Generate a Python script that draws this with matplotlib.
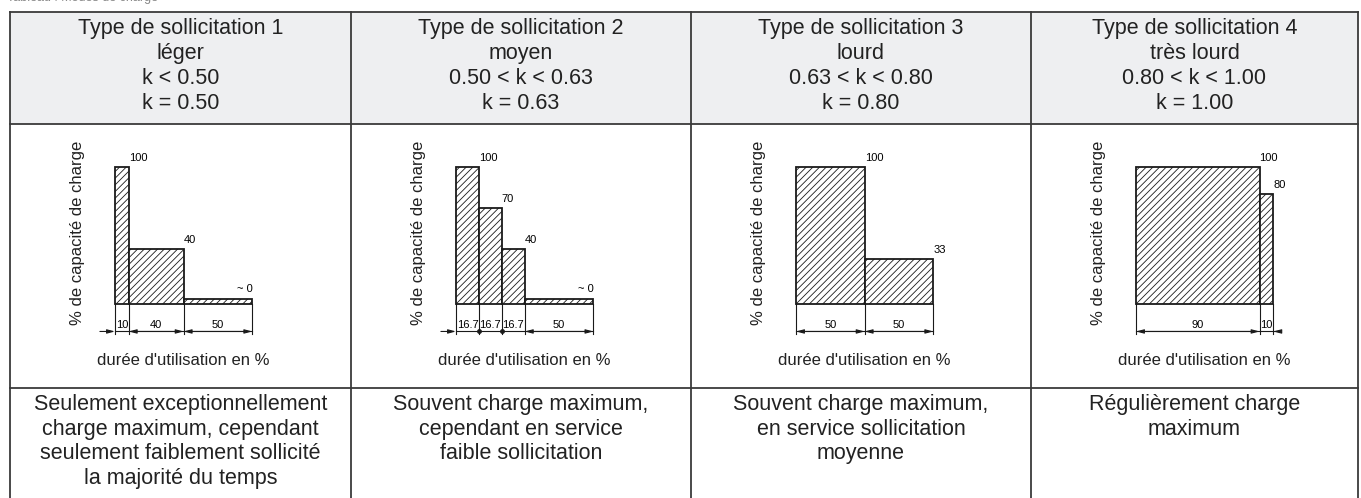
import numpy as np
import matplotlib.pyplot as plt
from matplotlib.patches import Rectangle, FancyArrowPatch

plt.rcParams['font.family'] = ['Liberation Sans', 'DejaVu Sans']
plt.rcParams['hatch.linewidth'] = 0.6

# table content
header_titles = ["Type de sollicitation 1", "Type de sollicitation 2",
                 "Type de sollicitation 3", "Type de sollicitation 4"]
header_names = ["léger", "moyen", "lourd", "très lourd"]
header_ranges = ["k < 0.50", "0.50 < k < 0.63", "0.63 < k < 0.80", "0.80 < k < 1.00"]
header_values = ["k = 0.50", "k = 0.63", "k = 0.80", "k = 1.00"]
descriptions = [
    "Seulement exceptionnellement\ncharge maximum, cependant\nseulement faiblement sollicité\nla majorité du temps",
    "Souvent charge maximum,\ncependant en service\nfaible sollicitation",
    "Souvent charge maximum,\nen service sollicitation\nmoyenne",
    "Régulièrement charge\nmaximum",
]

# load spectra: % load capacity per block, and duration of each block in %
load_levels = [[100, 40, 4], [100, 70, 40, 4], [100, 33], [100, 80]]
load_labels = [["100", "40", "~ 0"], ["100", "70", "40", "~ 0"], ["100", "33"], ["100", "80"]]
durations = [[10, 40, 50], [16.7, 16.7, 16.7, 50], [50, 50], [90, 10]]
duration_labels = [["10", "40", "50"], ["16.7", "16.7", "16.7", "50"], ["50", "50"], ["90", "10"]]

ylabel = "% de capacité de charge"
xlabel = "durée d'utilisation en %"

W, H = 1361, 498
col_left = [10, 351, 691, 1031]
col_right = [351, 691, 1031, 1358]
top, head_bot, mid_bot = 12, 124, 388
line_col = "#3a3a3a"
text_col = "#222222"

fig = plt.figure(figsize=(W / 100, H / 100), dpi=100)
bg = fig.add_axes([0, 0, 1, 1])
bg.set_xlim(0, W)
bg.set_ylim(H, 0)
bg.axis("off")

# caption above the table, mostly cut off by the top edge
fig.text(7 / W, 1 - 1 / H, "Tableau : Modes de charge", fontsize=9, color="#888888",
         va="baseline", ha="left")

# header background + grid
bg.add_patch(Rectangle((col_left[0], top), col_right[-1] - col_left[0], head_bot - top,
                       facecolor="#eeeff1", edgecolor="none"))
for yy in [top, head_bot, mid_bot]:
    bg.plot([col_left[0], col_right[-1]], [yy, yy], color=line_col, lw=1.3)
for xx in col_left + [col_right[-1]]:
    bg.plot([xx, xx], [top, H], color=line_col, lw=1.3)

for i in range(4):
    cx = (col_left[i] + col_right[i]) / 2
    txt = "\n".join([header_titles[i], header_names[i], header_ranges[i], header_values[i]])
    bg.text(cx, 66, txt, ha="center", va="center", fontsize=15.5,
            linespacing=1.25, color=text_col)
    bg.text(cx, mid_bot + 6, descriptions[i], ha="center", va="top", fontsize=15.5,
            linespacing=1.22, color=text_col)

# charts
S = 1.373  # px per % unit
x0_off, base_px = 105, 304
xlo, xhi, ylo, yhi = -35, 112, -50, 112

for i in range(4):
    left_px = col_left[i] + x0_off + xlo * S
    bot_px = base_px - ylo * S
    ax = fig.add_axes([left_px / W, (H - bot_px) / H, (xhi - xlo) * S / W, (yhi - ylo) * S / H])
    ax.set_xlim(xlo, xhi)
    ax.set_ylim(ylo, yhi)
    ax.axis("off")

    widths = np.array(durations[i])
    edges = np.concatenate([[0], np.cumsum(widths)])
    heights = np.array(load_levels[i])
    ax.bar(edges[:-1], heights, width=widths, align="edge", facecolor="white",
           edgecolor="#1a1a1a", hatch="/////", lw=1.3)

    for j, (h, lab) in enumerate(zip(heights, load_labels[i])):
        ha = "right" if lab.startswith("~") else "left"
        ax.annotate(lab, (edges[j + 1], h), xytext=(0, 3), textcoords="offset points",
                    ha=ha, va="bottom", fontsize=8)

    # dimension line
    dim_y = -20
    for e in edges:
        ax.plot([e, e], [0, dim_y - 1.5], color="#1a1a1a", lw=0.8)
    ax.plot([edges[0], edges[-1]], [dim_y, dim_y], color="#1a1a1a", lw=0.8)
    arrow_kw = dict(color="#1a1a1a", lw=0.8, mutation_scale=10, shrinkA=0, shrinkB=0)
    for j, w in enumerate(widths):
        if w >= 20:
            ax.add_patch(FancyArrowPatch((edges[j], dim_y), (edges[j + 1], dim_y),
                                         arrowstyle="<|-|>,head_length=0.45,head_width=0.12",
                                         **arrow_kw))
        ax.text((edges[j] + edges[j + 1]) / 2, dim_y + 4.5, duration_labels[i][j],
                ha="center", va="center", fontsize=8)
    if widths[0] < 20:
        ax.add_patch(FancyArrowPatch((edges[0] - 11, dim_y), (edges[0], dim_y),
                                     arrowstyle="-|>,head_length=0.45,head_width=0.12", **arrow_kw))
    if widths[-1] < 20:
        ax.add_patch(FancyArrowPatch((edges[-1] + 5, dim_y), (edges[-1], dim_y),
                                     arrowstyle="-|>,head_length=0.45,head_width=0.12", **arrow_kw))
        ax.plot([edges[-1], edges[-1] + 5], [dim_y, dim_y], color="#1a1a1a", lw=0.8)
    for j in range(1, len(widths)):
        if widths[j - 1] < 20 and widths[j] < 20:
            ax.plot(edges[j], dim_y, "o", color="#1a1a1a", ms=2.5)

    ax.text(-27, 52, ylabel, rotation=90, ha="center", va="center", fontsize=12,
            color=text_col)
    ax.text(50, -40.8, xlabel, ha="center", va="center", fontsize=12, color=text_col)

fig.savefig("out.png", dpi=100)
